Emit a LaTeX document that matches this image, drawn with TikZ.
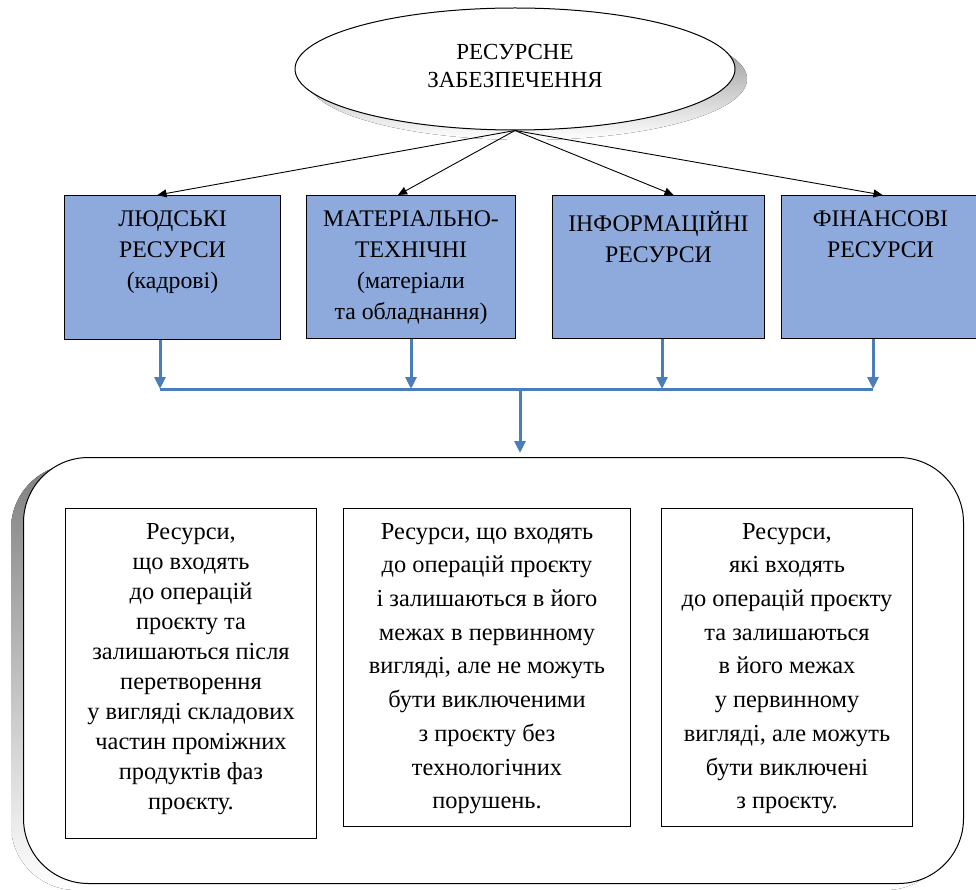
\documentclass[tikz,border=0pt]{standalone}
\usepackage{fontspec}
\setmainfont{Liberation Serif}
\usetikzlibrary{shapes.geometric,arrows.meta,calc}
\definecolor{boxblue}{RGB}{142,169,219}
\definecolor{linkblue}{RGB}{74,126,187}
\definecolor{shade}{RGB}{192,192,192}
\tikzset{
 topbox/.style={draw=black, line width=1pt, fill=boxblue, anchor=north west, inner sep=0pt},
 toptext/.style={anchor=north, align=center, inner sep=0pt, font=\fontsize{23.8}{31}\selectfont},
 lowtext/.style={anchor=north, align=center, inner sep=0pt, font=\fontsize{24.4}{30}\selectfont},
 lowtextb/.style={anchor=north, align=center, inner sep=0pt, font=\fontsize{24.4}{33.7}\selectfont},
 blackarrow/.style={-{Triangle[length=9pt,width=8pt]}, line width=0.9pt},
 bluearrow/.style={-{Triangle[length=12pt,width=11pt]}, line width=3pt, draw=linkblue},
 busline/.style={line width=3pt, draw=linkblue},
 innerbox/.style={draw, line width=1pt, fill=white, anchor=north west, inner sep=0pt},
}
\begin{document}
\begin{tikzpicture}[x=1pt,y=-1pt]
\useasboundingbox (0,0) rectangle (976,890);
\clip (0,0) rectangle (976,890);
% top ellipse
\fill[shade] (527,79) ellipse [x radius=220pt, y radius=61pt];
\node[ellipse, draw, line width=1pt, fill=white, minimum width=440pt, minimum height=122pt, inner sep=0pt] (top) at (515,69) {};
\node[align=center, inner sep=0pt, font=\fontsize{23}{28.5}\selectfont] (toptxt) at ($(top.center)+(0,-3)$) {РЕСУРСНЕ\\ЗАБЕЗПЕЧЕННЯ};
% top boxes
\node[topbox, minimum width=216pt, minimum height=144pt] (b1) at (64,195) {};
\node[topbox, minimum width=209pt, minimum height=143pt] (b2) at (306,195) {};
\node[topbox, minimum width=212pt, minimum height=143pt] (b3) at (552,195) {};
\node[topbox, minimum width=198pt, minimum height=143pt] (b4) at (781,195) {};
\node[toptext] (t1) at ($(b1.north)+(0,16)$) {ЛЮДСЬКІ\\РЕСУРСИ\\(кадрові)};
\node[toptext] (t2) at ($(b2.north)+(0,16)$) {МАТЕРІАЛЬНО-\\ТЕХНІЧНІ\\(матеріали\\та обладнання)};
\node[toptext] (t3) at ($(b3.north)+(0,16)$) {ІНФОРМАЦІЙНІ\\РЕСУРСИ};
\node[toptext] (t4) at ($(b4.north)+(0,16)$) {ФІНАНСОВІ\\РЕСУРСИ};
% black arrows
\draw[blackarrow] (top.south) -- ($(b1.north)+(-15,0)$);
\draw[blackarrow] (top.south) -- ($(b2.north)+(-13,0)$);
\draw[blackarrow] (top.south) -- ($(b3.north)+(15,0)$);
\draw[blackarrow] (top.south) -- ($(b4.north)+(2,0)$);
% bus
\coordinate (busL) at (160,389);
\coordinate (j2) at (411,389);
\coordinate (j3) at (662,389);
\coordinate (busR) at (873,389);
\coordinate (busM) at (520,389);
% big rounded box
\fill[shade, rounded corners=65pt] (11,464) rectangle (951,890);
\node[draw, line width=1pt, fill=white, rounded corners=65pt, minimum width=940pt, minimum height=426pt, anchor=north west, inner sep=0pt] (big) at (23,457) {};
\draw[busline] (busL) -- (busR);
\draw[bluearrow] (busL |- b1.south) -- (busL);
\draw[bluearrow] (j2 |- b2.south) -- (j2);
\draw[bluearrow] (j3 |- b3.south) -- (j3);
\draw[bluearrow] (busR |- b4.south) -- (busR);
\draw[bluearrow, shorten >=4pt] (busM) -- (busM |- big.north);
% inner boxes
\node[innerbox, minimum width=251pt, minimum height=330pt] (i1) at (65,508) {};
\node[innerbox, minimum width=287pt, minimum height=318pt] (i2) at (343,508) {};
\node[innerbox, minimum width=251pt, minimum height=318pt] (i3) at (661,508) {};
\node[lowtext] (u1) at ($(i1.north)+(0,15)$) {Ресурси,\\що входять\\до операцій\\проєкту та\\залишаються після\\перетворення\\у вигляді складових\\частин проміжних\\продуктів фаз\\проєкту.};
\node[lowtextb] (u2) at ($(i2.north)+(0,15)$) {Ресурси, що входять\\до операцій проєкту\\і залишаються в його\\межах в первинному\\вигляді, але не можуть\\бути виключеними\\з проєкту без\\технологічних\\порушень.};
\node[lowtextb] (u3) at ($(i3.north)+(0,15)$) {Ресурси,\\які входять\\до операцій проєкту\\та залишаються\\в його межах\\у первинному\\вигляді, але можуть\\бути виключені\\з проєкту.};
\end{tikzpicture}
\end{document}
